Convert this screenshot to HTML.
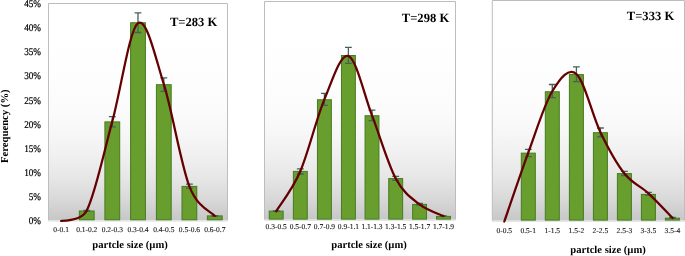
<!DOCTYPE html>
<html><head><meta charset="utf-8"><style>
html,body{margin:0;padding:0;background:#fff;}
body{width:685px;height:256px;overflow:hidden;}
svg{display:block;will-change:transform;}
text{font-family:"Liberation Serif",serif;fill:#000;text-rendering:geometricPrecision;}
.xl{font-size:7.5px;text-anchor:middle;fill:#111;stroke:#111;stroke-width:0.1px;}
.yl{font-size:9.2px;text-anchor:end;fill:#000;stroke:#000;stroke-width:0.18px;}
.tt{font-size:12.6px;font-weight:bold;text-anchor:end;}
.xt{font-size:10.6px;font-weight:bold;text-anchor:middle;}
.yt{font-size:10.7px;font-weight:bold;text-anchor:middle;}
</style></head><body>
<svg width="685" height="256" viewBox="0 0 685 256">
<defs>
<linearGradient id="g0" x1="0" y1="0" x2="0" y2="1"><stop offset="0" stop-color="rgb(255,255,255)"/><stop offset="0.3" stop-color="rgb(254,254,254)"/><stop offset="0.5" stop-color="rgb(251,251,251)"/><stop offset="0.6" stop-color="rgb(247,247,247)"/><stop offset="0.7" stop-color="rgb(240,240,240)"/><stop offset="0.8" stop-color="rgb(231,231,231)"/><stop offset="0.9" stop-color="rgb(217,217,217)"/><stop offset="0.95" stop-color="rgb(208,208,208)"/><stop offset="1" stop-color="rgb(199,199,199)"/></linearGradient>
<linearGradient id="g1" x1="0" y1="0" x2="0" y2="1"><stop offset="0" stop-color="rgb(255,255,255)"/><stop offset="0.3" stop-color="rgb(254,254,254)"/><stop offset="0.5" stop-color="rgb(251,251,251)"/><stop offset="0.6" stop-color="rgb(247,247,247)"/><stop offset="0.7" stop-color="rgb(240,240,240)"/><stop offset="0.8" stop-color="rgb(231,231,231)"/><stop offset="0.9" stop-color="rgb(217,217,217)"/><stop offset="0.95" stop-color="rgb(208,208,208)"/><stop offset="1" stop-color="rgb(199,199,199)"/></linearGradient>
<linearGradient id="g2" x1="0" y1="0" x2="0" y2="1"><stop offset="0" stop-color="rgb(255,255,255)"/><stop offset="0.3" stop-color="rgb(254,254,254)"/><stop offset="0.5" stop-color="rgb(251,251,251)"/><stop offset="0.6" stop-color="rgb(247,247,247)"/><stop offset="0.7" stop-color="rgb(240,240,240)"/><stop offset="0.8" stop-color="rgb(231,231,231)"/><stop offset="0.9" stop-color="rgb(217,217,217)"/><stop offset="0.95" stop-color="rgb(208,208,208)"/><stop offset="1" stop-color="rgb(199,199,199)"/></linearGradient>
</defs>
<rect x="48.5" y="3.5" width="179.0" height="216.8" fill="url(#g0)" stroke="none"/>
<rect x="48.5" y="220.3" width="179.0" height="1.3" fill="#dfe3e0"/>
<path d="M48.5,220.3 L48.5,3.5 L227.5,3.5 L227.5,220.3" fill="none" stroke="#bdbdbd" stroke-width="1"/>
<rect x="79.35" y="211.00" width="14.8" height="8.80" fill="#689e2e" stroke="#477a22" stroke-width="1"/>
<rect x="104.90" y="121.90" width="14.8" height="97.90" fill="#689e2e" stroke="#477a22" stroke-width="1"/>
<rect x="130.60" y="22.75" width="14.8" height="197.05" fill="#689e2e" stroke="#477a22" stroke-width="1"/>
<rect x="156.40" y="84.70" width="14.8" height="135.10" fill="#689e2e" stroke="#477a22" stroke-width="1"/>
<rect x="182.00" y="186.40" width="14.8" height="33.40" fill="#689e2e" stroke="#477a22" stroke-width="1"/>
<rect x="207.40" y="215.90" width="14.8" height="3.90" fill="#689e2e" stroke="#477a22" stroke-width="1"/>
<path d="M86.75,210.50 V211.10 M83.35,210.50 H90.15 M83.35,211.10 H90.15" stroke="#46605a" stroke-width="1.3" fill="none"/>
<path d="M112.30,116.70 V126.90 M108.90,116.70 H115.70 M108.90,126.90 H115.70" stroke="#46605a" stroke-width="1.3" fill="none"/>
<path d="M138.00,12.90 V32.50 M134.60,12.90 H141.40 M134.60,32.50 H141.40" stroke="#46605a" stroke-width="1.3" fill="none"/>
<path d="M163.80,77.80 V91.40 M160.40,77.80 H167.20 M160.40,91.40 H167.20" stroke="#46605a" stroke-width="1.3" fill="none"/>
<path d="M189.40,184.20 V188.10 M186.00,184.20 H192.80 M186.00,188.10 H192.80" stroke="#46605a" stroke-width="1.3" fill="none"/>
<path d="M214.80,215.55 V216.25 M211.40,215.55 H218.20 M211.40,216.25 H218.20" stroke="#46605a" stroke-width="1.3" fill="none"/>
<path d="M61.10,221.00 C67.20,220.70 82.30,220.20 86.75,210.50 C95.28,193.90 103.76,152.62 112.30,121.40 C120.84,90.18 129.42,29.40 138.00,23.20 C146.58,17.00 155.23,57.00 163.80,84.20 C172.37,111.40 180.90,164.45 189.40,186.40 C197.90,208.35 210.57,210.98 214.80,215.90" fill="none" stroke="#640000" stroke-width="2.25" stroke-linecap="round" stroke-linejoin="round"/>
<text transform="translate(61.10,232.0) scale(1,1)" class="xl">0-0.1</text>
<text transform="translate(86.75,232.0) scale(1,1)" class="xl">0.1-0.2</text>
<text transform="translate(112.30,232.0) scale(1,1)" class="xl">0.2-0.3</text>
<text transform="translate(138.00,232.0) scale(1,1)" class="xl">0.3-0.4</text>
<text transform="translate(163.80,232.0) scale(1,1)" class="xl">0.4-0.5</text>
<text transform="translate(189.40,232.0) scale(1,1)" class="xl">0.5-0.6</text>
<text transform="translate(214.80,232.0) scale(1,1)" class="xl">0.6-0.7</text>
<text x="217.3" y="26.2" class="tt">T=283 K</text>
<text x="130" y="247.6" class="xt">partcle size (µm)</text>
<rect x="264.5" y="1.5" width="191.0" height="218.1" fill="url(#g1)" stroke="none"/>
<rect x="264.5" y="219.6" width="191.0" height="1.3" fill="#dfe3e0"/>
<path d="M264.5,219.6 L264.5,1.5 L455.5,1.5 L455.5,219.6" fill="none" stroke="#bdbdbd" stroke-width="1"/>
<rect x="269.25" y="211.10" width="13.9" height="8.00" fill="#689e2e" stroke="#477a22" stroke-width="1"/>
<rect x="293.35" y="171.40" width="13.9" height="47.70" fill="#689e2e" stroke="#477a22" stroke-width="1"/>
<rect x="317.45" y="99.75" width="13.9" height="119.35" fill="#689e2e" stroke="#477a22" stroke-width="1"/>
<rect x="341.45" y="55.50" width="13.9" height="163.60" fill="#689e2e" stroke="#477a22" stroke-width="1"/>
<rect x="365.05" y="115.75" width="13.9" height="103.35" fill="#689e2e" stroke="#477a22" stroke-width="1"/>
<rect x="388.75" y="178.60" width="13.9" height="40.50" fill="#689e2e" stroke="#477a22" stroke-width="1"/>
<rect x="412.65" y="204.40" width="13.9" height="14.70" fill="#689e2e" stroke="#477a22" stroke-width="1"/>
<rect x="436.55" y="216.40" width="13.9" height="2.70" fill="#689e2e" stroke="#477a22" stroke-width="1"/>
<path d="M276.20,210.80 V211.40 M272.80,210.80 H279.60 M272.80,211.40 H279.60" stroke="#46605a" stroke-width="1.3" fill="none"/>
<path d="M300.30,168.80 V174.00 M296.90,168.80 H303.70 M296.90,174.00 H303.70" stroke="#46605a" stroke-width="1.3" fill="none"/>
<path d="M324.40,93.40 V105.30 M321.00,93.40 H327.80 M321.00,105.30 H327.80" stroke="#46605a" stroke-width="1.3" fill="none"/>
<path d="M348.40,47.30 V63.40 M345.00,47.30 H351.80 M345.00,63.40 H351.80" stroke="#46605a" stroke-width="1.3" fill="none"/>
<path d="M372.00,110.10 V120.70 M368.60,110.10 H375.40 M368.60,120.70 H375.40" stroke="#46605a" stroke-width="1.3" fill="none"/>
<path d="M395.70,176.40 V180.40 M392.30,176.40 H399.10 M392.30,180.40 H399.10" stroke="#46605a" stroke-width="1.3" fill="none"/>
<path d="M419.60,203.40 V205.00 M416.20,203.40 H423.00 M416.20,205.00 H423.00" stroke="#46605a" stroke-width="1.3" fill="none"/>
<path d="M443.50,215.80 V216.40 M440.10,215.80 H446.90 M440.10,216.40 H446.90" stroke="#46605a" stroke-width="1.3" fill="none"/>
<path d="M276.20,211.30 C280.22,204.62 292.27,189.86 300.30,171.20 C308.33,152.54 316.38,118.55 324.40,99.35 C332.42,80.15 340.47,53.32 348.40,56.00 C356.33,58.68 364.12,94.98 372.00,115.40 C379.88,135.82 387.77,163.67 395.70,178.50 C403.63,193.33 411.62,198.13 419.60,204.40 C427.58,210.67 439.60,214.15 443.60,216.10" fill="none" stroke="#640000" stroke-width="2.25" stroke-linecap="round" stroke-linejoin="round"/>
<text transform="translate(276.20,229.0) scale(1,1)" class="xl">0.3-0.5</text>
<text transform="translate(300.30,229.0) scale(1,1)" class="xl">0.5-0.7</text>
<text transform="translate(324.40,229.0) scale(1,1)" class="xl">0.7-0.9</text>
<text transform="translate(348.40,229.0) scale(1,1)" class="xl">0.9-1.1</text>
<text transform="translate(372.00,229.0) scale(1,1)" class="xl">1.1-1.3</text>
<text transform="translate(395.70,229.0) scale(1,1)" class="xl">1.3-1.5</text>
<text transform="translate(419.60,229.0) scale(1,1)" class="xl">1.5-1.7</text>
<text transform="translate(443.50,229.0) scale(1,1)" class="xl">1.7-1.9</text>
<text x="449.2" y="21.9" class="tt">T=298 K</text>
<text x="369" y="247.8" class="xt">partcle size (µm)</text>
<rect x="492.3" y="0.5" width="192.2" height="220.1" fill="url(#g2)" stroke="none"/>
<rect x="492.3" y="220.6" width="192.2" height="1.3" fill="#dfe3e0"/>
<path d="M492.3,220.6 L492.3,0.5 L684.5,0.5 L684.5,220.6" fill="none" stroke="#bdbdbd" stroke-width="1"/>
<rect x="521.30" y="153.15" width="14" height="66.95" fill="#689e2e" stroke="#477a22" stroke-width="1"/>
<rect x="545.30" y="91.75" width="14" height="128.35" fill="#689e2e" stroke="#477a22" stroke-width="1"/>
<rect x="569.40" y="74.60" width="14" height="145.50" fill="#689e2e" stroke="#477a22" stroke-width="1"/>
<rect x="593.40" y="132.70" width="14" height="87.40" fill="#689e2e" stroke="#477a22" stroke-width="1"/>
<rect x="617.40" y="173.60" width="14" height="46.50" fill="#689e2e" stroke="#477a22" stroke-width="1"/>
<rect x="641.40" y="194.40" width="14" height="25.70" fill="#689e2e" stroke="#477a22" stroke-width="1"/>
<rect x="665.40" y="218.20" width="14" height="1.90" fill="#689e2e" stroke="#477a22" stroke-width="1"/>
<path d="M528.30,149.40 V156.70 M524.90,149.40 H531.70 M524.90,156.70 H531.70" stroke="#46605a" stroke-width="1.3" fill="none"/>
<path d="M552.30,84.50 V97.60 M548.90,84.50 H555.70 M548.90,97.60 H555.70" stroke="#46605a" stroke-width="1.3" fill="none"/>
<path d="M576.40,66.80 V81.60 M573.00,66.80 H579.80 M573.00,81.60 H579.80" stroke="#46605a" stroke-width="1.3" fill="none"/>
<path d="M600.40,128.00 V136.90 M597.00,128.00 H603.80 M597.00,136.90 H603.80" stroke="#46605a" stroke-width="1.3" fill="none"/>
<path d="M624.40,171.30 V175.50 M621.00,171.30 H627.80 M621.00,175.50 H627.80" stroke="#46605a" stroke-width="1.3" fill="none"/>
<path d="M648.40,192.40 V195.20 M645.00,192.40 H651.80 M645.00,195.20 H651.80" stroke="#46605a" stroke-width="1.3" fill="none"/>
<path d="M672.40,217.50 V218.30 M669.00,217.50 H675.80 M669.00,218.30 H675.80" stroke="#46605a" stroke-width="1.3" fill="none"/>
<path d="M504.30,221.50 C508.30,210.03 520.30,174.36 528.30,152.65 C536.30,130.94 544.28,104.36 552.30,91.25 C560.32,78.14 568.38,67.17 576.40,74.00 C584.42,80.83 592.40,115.62 600.40,132.20 C608.40,148.78 616.40,163.32 624.40,173.50 C632.40,183.68 640.37,185.88 648.40,193.30 C656.43,200.72 668.57,213.88 672.60,218.00" fill="none" stroke="#640000" stroke-width="2.25" stroke-linecap="round" stroke-linejoin="round"/>
<text transform="translate(504.30,233.0) scale(1,1)" class="xl">0-0.5</text>
<text transform="translate(528.30,233.0) scale(1,1)" class="xl">0.5-1</text>
<text transform="translate(552.30,233.0) scale(1,1)" class="xl">1-1.5</text>
<text transform="translate(576.40,233.0) scale(1,1)" class="xl">1.5-2</text>
<text transform="translate(600.40,233.0) scale(1,1)" class="xl">2-2.5</text>
<text transform="translate(624.40,233.0) scale(1,1)" class="xl">2.5-3</text>
<text transform="translate(648.40,233.0) scale(1,1)" class="xl">3-3.5</text>
<text transform="translate(672.40,233.0) scale(1,1)" class="xl">3.5-4</text>
<text x="674.2" y="20.1" class="tt">T=333 K</text>
<text x="608" y="253" class="xt">partcle size (µm)</text>
<text transform="translate(41,224.25) scale(1,1.12)" class="yl">0%</text>
<text transform="translate(41,200.10) scale(1,1.12)" class="yl">5%</text>
<text transform="translate(41,175.95) scale(1,1.12)" class="yl">10%</text>
<text transform="translate(41,151.80) scale(1,1.12)" class="yl">15%</text>
<text transform="translate(41,127.65) scale(1,1.12)" class="yl">20%</text>
<text transform="translate(41,103.50) scale(1,1.12)" class="yl">25%</text>
<text transform="translate(41,79.35) scale(1,1.12)" class="yl">30%</text>
<text transform="translate(41,55.20) scale(1,1.12)" class="yl">35%</text>
<text transform="translate(41,31.05) scale(1,1.12)" class="yl">40%</text>
<text transform="translate(41,6.90) scale(1,1.12)" class="yl">45%</text>
<text transform="translate(7.6,126.2) rotate(-90)" class="yt">Ferequency (%)</text>
</svg>
</body></html>
